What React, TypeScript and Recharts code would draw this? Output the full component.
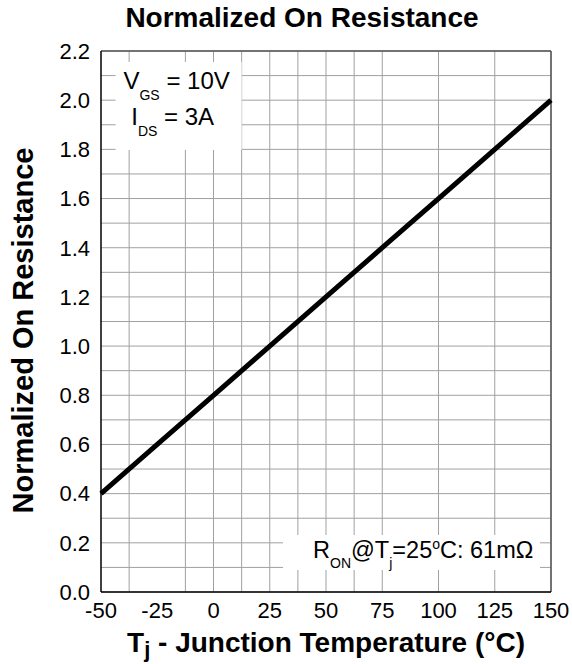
import { LineChart, Line, XAxis, YAxis, CartesianGrid, ReferenceArea, ReferenceLine, Label } from "recharts";

const temps = [-50, -25, 0, 25, 50, 75, 100, 125, 150];
const rNorm = [0.4, 0.6, 0.8, 1.0, 1.2, 1.4, 1.6, 1.8, 2.0];
const xTicks = [-50, -25, 0, 25, 50, 75, 100, 125, 150];
const yTicks = [0, 0.2, 0.4, 0.6, 0.8, 1.0, 1.2, 1.4, 1.6, 1.8, 2.0, 2.2];
const gridX = [-50, -37.5, -25, -12.5, 0, 12.5, 25, 37.5, 50, 62.5, 75, 87.5, 100, 112.5, 125, 137.5, 150];
const gridY = [0, 0.1, 0.2, 0.3, 0.4, 0.5, 0.6, 0.7, 0.8, 0.9, 1.0, 1.1, 1.2, 1.3, 1.4, 1.5, 1.6, 1.7, 1.8, 1.9, 2.0, 2.1, 2.2];

const data = temps.map((t, i) => ({ t, r: rNorm[i] }));

const FONT = "'Liberation Sans', Arial, sans-serif";

const CondText = ({ viewBox }: any) => {
  if (!viewBox) return null;
  const cx = viewBox.x + viewBox.width / 2 - 2;
  const y = viewBox.y;
  return (
    <g fontFamily={FONT} fill="#000">
      <text x={cx} y={y + 27} textAnchor="middle" fontSize={24}>
        V<tspan fontSize={14} dy={11}>GS</tspan><tspan dy={-11}> = 10V</tspan>
      </text>
      <text x={cx - 4} y={y + 63} textAnchor="middle" fontSize={24}>
        I<tspan fontSize={14} dy={11}>DS</tspan><tspan dy={-11}> = 3A</tspan>
      </text>
    </g>
  );
};

const RonText = ({ viewBox }: any) => {
  if (!viewBox) return null;
  return (
    <g fontFamily={FONT} fill="#000">
      <text x={viewBox.x + 30} y={viewBox.y + 23} fontSize={23.5}>
        R<tspan fontSize={14} dy={10}>ON</tspan>
        <tspan dy={-10}>@T</tspan>
        <tspan fontSize={14} dy={10}>j</tspan>
        <tspan dy={-10}>=25</tspan>
        <tspan fontSize={14} dy={-9}>o</tspan>
        <tspan dy={9}>C: 61mΩ</tspan>
      </text>
    </g>
  );
};

export default function App() {
  return (
    <div style={{ position: "relative", width: 572, height: 664, background: "#fff", fontFamily: FONT }}>
      <style>{"body{margin:0}"}</style>
      <LineChart width={572} height={664} data={data} margin={{ top: 51, right: 21, left: 0, bottom: 0 }}>
        <CartesianGrid stroke="#a0a0a0" strokeWidth={1} verticalValues={gridX} horizontalValues={gridY} />
        <XAxis dataKey="t" type="number" domain={[-50, 150]} ticks={xTicks} height={72}
          tickSize={0} tickMargin={10} axisLine={{ stroke: "#000", strokeWidth: 1.5 }}
          tick={{ fill: "#000", fontSize: 22, fontFamily: FONT }}>
          <Label content={({ viewBox }: any) => (
            <text x={viewBox.x + viewBox.width / 2} y={viewBox.y + 60} textAnchor="middle"
              fontSize={28} fontWeight="bold" fontFamily={FONT} fill="#000">
              T<tspan fontSize={22} dy={5}>j</tspan><tspan dy={-5}> - Junction Temperature (°C)</tspan>
            </text>
          )} />
        </XAxis>
        <YAxis type="number" domain={[0, 2.2]} ticks={yTicks} width={101} allowDataOverflow
          tickSize={0} tickMargin={11} axisLine={{ stroke: "#000", strokeWidth: 1.5 }}
          tickFormatter={(v: number) => v.toFixed(1)}
          tick={{ fill: "#000", fontSize: 22, fontFamily: FONT }}>
          <Label content={({ viewBox }: any) => (
            <text x={0} y={0} transform={`translate(33, ${viewBox.y + viewBox.height / 2 + 9}) rotate(-90)`}
              textAnchor="middle" fontSize={29} fontWeight="bold" fontFamily={FONT} fill="#000">
              Normalized On Resistance
            </text>
          )} />
        </YAxis>
        <ReferenceLine x={150} stroke="#555" strokeWidth={1.5} />
        <ReferenceLine y={2.2} stroke="#555" strokeWidth={1.5} />
        <ReferenceArea x1={-43.5} x2={12.5} y1={1.797} y2={2.155} fill="#fff" fillOpacity={1} stroke="none"
          label={<CondText />} />
        <ReferenceArea x1={30.9} x2={145.1} y1={0.089} y2={0.232} fill="#fff" fillOpacity={1} stroke="none"
          label={<RonText />} />
        <Line type="linear" dataKey="r" stroke="#000" strokeWidth={5} dot={false} isAnimationActive={false} />
      </LineChart>
      <svg width={572} height={40} style={{ position: "absolute", left: 0, top: 0, pointerEvents: "none" }}>
        <text x={302} y={27} textAnchor="middle" fontSize={28} fontWeight="bold" fontFamily={FONT} fill="#000">
          Normalized On Resistance
        </text>
      </svg>
    </div>
  );
}
